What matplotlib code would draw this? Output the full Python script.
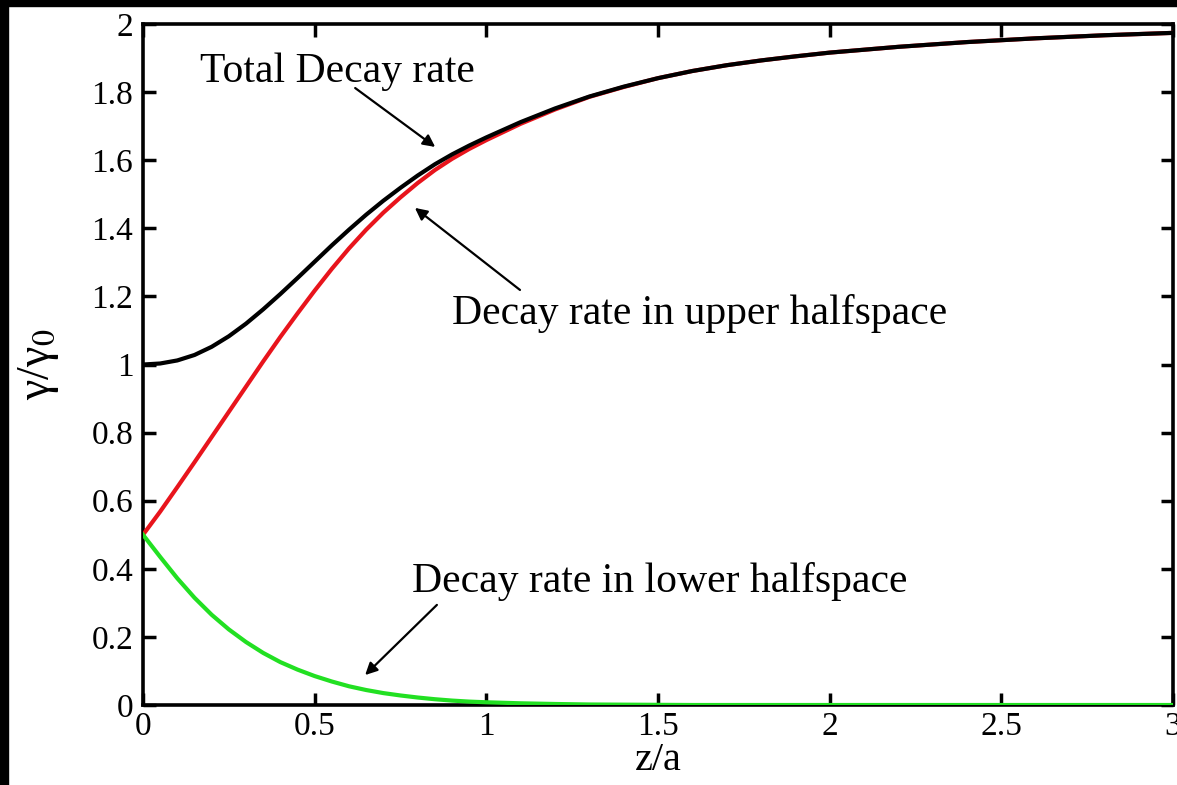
import matplotlib
matplotlib.use('Agg')
import matplotlib.pyplot as plt
from matplotlib.patches import Rectangle

plt.rcParams['font.family'] = ['Liberation Serif', 'DejaVu Serif']
plt.rcParams['mathtext.fontset'] = 'stix'

# distance from the interface, in units of a
z = [0.0, 0.05, 0.1, 0.15, 0.2, 0.25, 0.3, 0.35, 0.4, 0.45, 0.5, 0.55, 0.6,
     0.65, 0.7, 0.75, 0.8, 0.85, 0.9, 0.95, 1.0, 1.1, 1.2, 1.3, 1.4, 1.5,
     1.6, 1.7, 1.8, 1.9, 2.0, 2.2, 2.4, 2.6, 2.8, 3.0]

# normalised decay rates gamma/gamma_0
total = [1.000, 1.003, 1.012, 1.028, 1.052, 1.083, 1.120, 1.162, 1.207, 1.254,
         1.302, 1.350, 1.396, 1.440, 1.481, 1.519, 1.555, 1.588, 1.617, 1.643,
         1.667, 1.712, 1.752, 1.787, 1.816, 1.841, 1.862, 1.879, 1.893, 1.905,
         1.916, 1.933, 1.947, 1.958, 1.967, 1.974]
upper = [0.500, 0.568, 0.640, 0.713, 0.787, 0.861, 0.935, 1.009, 1.081, 1.150,
         1.217, 1.281, 1.341, 1.396, 1.446, 1.491, 1.533, 1.571, 1.604, 1.633,
         1.659, 1.707, 1.749, 1.786, 1.815, 1.841, 1.862, 1.879, 1.893, 1.905,
         1.916, 1.933, 1.947, 1.958, 1.967, 1.974]
lower = [0.500, 0.435, 0.372, 0.315, 0.265, 0.222, 0.185, 0.153, 0.126, 0.104,
         0.085, 0.069, 0.055, 0.044, 0.035, 0.028, 0.022, 0.017, 0.013, 0.010,
         0.008, 0.005, 0.003, 0.0015, 0.001, 0.0005, 0.0, 0.0, 0.0, 0.0,
         0.0, 0.0, 0.0, 0.0, 0.0, 0.0]

xticks = [0, 0.5, 1, 1.5, 2, 2.5, 3]
xticklabels = ['0', '0.5', '1', '1.5', '2', '2.5', '3']
yticks = [0, 0.2, 0.4, 0.6, 0.8, 1, 1.2, 1.4, 1.6, 1.8, 2]
yticklabels = ['0', '0.2', '0.4', '0.6', '0.8', '1', '1.2', '1.4', '1.6', '1.8', '2']

fig = plt.figure(figsize=(11.77, 7.85), dpi=100)
ax = fig.add_axes([0.1215, 0.1019, 0.8751, 0.8675])

ax.plot(z, upper, color='#e8141c', lw=3.0, zorder=3)
ax.plot(z, lower, color='#22e022', lw=3.0, zorder=3)
ax.plot(z, total, color='black', lw=3.0, zorder=4)

ax.set_xlim(0, 3)
ax.set_ylim(0, 2)
ax.set_xticks(xticks)
ax.set_xticklabels(xticklabels)
ax.set_yticks(yticks)
ax.set_yticklabels(yticklabels)
ax.tick_params(direction='in', length=9, width=2.5, labelsize=24,
               top=True, right=True)
ax.tick_params(axis='y', pad=7)
ax.tick_params(axis='x', pad=5)
for sp in ax.spines.values():
    sp.set_linewidth(2.6)

ax.set_xlabel('z/a', fontsize=29, labelpad=0)
ax.set_ylabel('γ/γ$_0$', fontsize=33, labelpad=22)

arrow = dict(arrowstyle='-|>', color='black', lw=1.6, mutation_scale=18,
             shrinkA=0, shrinkB=0)

ax.text(0.565, 1.86, 'Total Decay rate', fontsize=30, ha='center', va='center')
ax.annotate('', xy=(0.851, 1.639), xytext=(0.618, 1.812), arrowprops=arrow)

ax.text(1.622, 1.15, 'Decay rate in upper halfspace', fontsize=30,
        ha='center', va='center')
ax.annotate('', xy=(0.792, 1.46), xytext=(1.098, 1.219), arrowprops=arrow)

ax.text(1.506, 0.364, 'Decay rate in lower halfspace', fontsize=30,
        ha='center', va='center')
ax.annotate('', xy=(0.647, 0.088), xytext=(0.856, 0.294), arrowprops=arrow)

# dark frame strips at the left and top edges
fig.patches.append(Rectangle((0, 0), 8 / 1177, 1, transform=fig.transFigure,
                             color='black', zorder=10))
fig.patches.append(Rectangle((0, 1 - 6 / 785), 1, 6 / 785,
                             transform=fig.transFigure, color='black', zorder=10))

fig.savefig('out.png', dpi=100)
